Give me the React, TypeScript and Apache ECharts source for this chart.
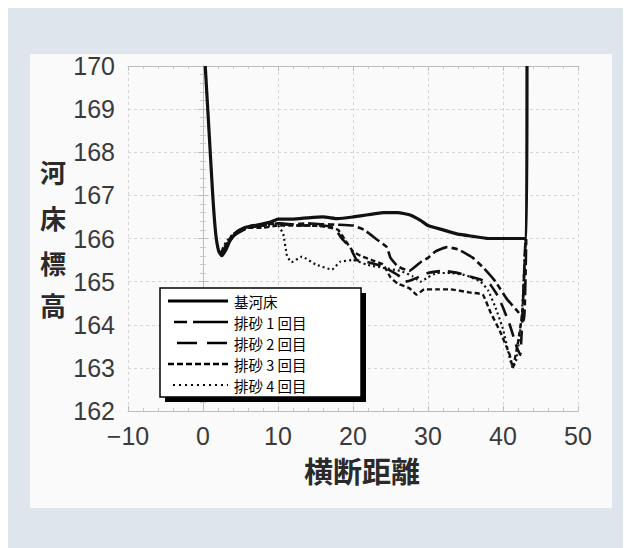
import React, { useEffect, useRef } from "react";
import * as echarts from "echarts";

const seriesNames = ["基河床", "排砂 1 回目", "排砂 2 回目", "排砂 3 回目", "排砂 4 回目"];
const xAxisTitle = "横断距離";
const yAxisTitle = ["河", "床", "標", "高"];
const xMin = -10, xMax = 50, xStep = 10;
const yMin = 162, yMax = 170, yStep = 1;

const baseBed: number[][] = [
  [0.3, 170], [0.8, 168.5], [1.3, 167], [1.7, 166.1], [2.1, 165.7], [2.5, 165.6], [3.0, 165.72],
  [3.6, 165.95], [4.5, 166.15], [5.5, 166.25], [7, 166.3], [9, 166.38], [10, 166.45], [12, 166.45],
  [14, 166.48], [16, 166.5], [18, 166.46], [20, 166.5], [22, 166.55], [24, 166.6], [26, 166.6],
  [27.5, 166.55], [29, 166.42], [30, 166.3], [32, 166.2], [34, 166.1], [36, 166.05], [38, 166.0],
  [40, 166.0], [43.1, 166.0], [43.2, 170],
];
const flush1: number[][] = [
  [2.3, 165.65], [3, 165.8], [4, 166.05], [5, 166.2], [6.5, 166.3], [8, 166.32], [10, 166.35],
  [12, 166.33], [14, 166.35], [16, 166.33], [18, 166.32], [20, 166.3], [21.5, 166.2], [23, 166.0],
  [24.5, 165.8], [25, 165.55], [26, 165.35], [27.5, 165.25], [29, 165.45], [30, 165.55], [31, 165.7],
  [32.5, 165.8], [34, 165.75], [36, 165.55], [37.5, 165.3], [39, 165.0], [40.5, 164.6], [42, 164.3],
  [42.8, 164.1], [43.1, 166],
];
const flush2: number[][] = [
  [2.3, 165.65], [3, 165.8], [4, 166.05], [6, 166.25], [8, 166.3], [10, 166.35], [12, 166.3],
  [14, 166.3], [16, 166.3], [17.5, 166.25], [18.5, 166.0], [19.6, 165.8], [20.5, 165.5], [22, 165.45],
  [24, 165.35], [26, 165.15], [27, 165.0], [28, 165.05], [30, 165.2], [32, 165.25], [34, 165.2],
  [35.6, 165.12], [37, 165.05], [38.3, 164.93], [39.2, 164.7], [40, 164.4], [40.9, 164.0],
  [41.9, 163.45], [42.3, 163.3], [43.0, 166],
];
const flush3: number[][] = [
  [2.3, 165.65], [3, 165.85], [4, 166.1], [6, 166.25], [8, 166.25], [10, 166.3], [12, 166.3],
  [14, 166.3], [16, 166.28], [18, 166.2], [19, 165.95], [20, 165.7], [21, 165.6], [22.5, 165.5],
  [24, 165.4], [25, 165.1], [26, 164.95], [27.5, 164.85], [28.5, 164.7], [29.5, 164.82], [31, 164.82],
  [33, 164.82], [35.5, 164.75], [37.3, 164.7], [38.3, 164.3], [39.6, 163.85], [40.9, 163.3],
  [41.3, 163.0], [42, 163.6], [42.6, 164.3], [43.0, 166],
];
const flush4: number[][] = [
  [2.3, 165.65], [3, 165.9], [4, 166.1], [6, 166.25], [8, 166.3], [10, 166.3], [10.7, 166.1],
  [11.2, 165.6], [11.8, 165.45], [13.2, 165.58], [15, 165.4], [17.2, 165.28], [18.3, 165.46],
  [20, 165.5], [21.9, 165.39], [24, 165.32], [26.3, 165.25], [28, 165.12], [29, 165.0], [30, 165.1],
  [31.2, 165.2], [33, 165.2], [35, 165.15], [37, 165.0], [38, 164.8], [39, 164.4], [40, 163.9],
  [40.8, 163.3], [41.3, 163.0], [41.8, 163.2], [42.5, 164.2], [43.0, 166],
];

const seriesData = [baseBed, flush1, flush2, flush3, flush4];
const dashes: (number[] | null)[] = [null, [6, 4, 16, 4], [14, 8], [5, 3], [2, 3]];
const widths = [3.2, 2.6, 2.6, 2.4, 2.2];
const legendDashes: (number[] | null)[] = [null, [13, 6, 35, 6], [20, 10], [6, 3], [2, 4]];
const legendStart = [160, 166, 169, 160, 165];

const numFont = "'Liberation Sans', Arial, sans-serif";
const cjkFont = "'Noto Sans CJK JP', 'Noto Sans CJK SC', sans-serif";

export default function App() {
  const ref = useRef<HTMLDivElement>(null);
  useEffect(() => {
    if (!ref.current) return;
    const chart = echarts.init(ref.current, null, { renderer: "svg" });
    const gridL = 120, gridT = 58, gridW = 450, gridH = 345;
    const axisCommon = {
      type: "value" as const,
      min: xMin,
      max: xMax,
      interval: xStep,
    };
    const legendX = 152, legendY = 280, legendW = 201, legendH = 109;
    const rowsY = [293, 314, 335, 356, 377];
    const graphics: any[] = [
      { type: "rect", z: -10, shape: { x: 22, y: 46, width: 582, height: 454 }, style: { fill: "#fafafb" } },
      { type: "rect", z: 100, shape: { x: legendX + 5, y: legendY + 5, width: legendW, height: legendH }, style: { fill: "#000" } },
      { type: "rect", z: 101, shape: { x: legendX, y: legendY, width: legendW, height: legendH }, style: { fill: "#fff", stroke: "#000", lineWidth: 1.5 } },
    ];
    seriesNames.forEach((n, i) => {
      graphics.push({
        type: "line",
        z: 102,
        shape: { x1: legendStart[i], y1: rowsY[i], x2: 220, y2: rowsY[i] },
        style: { stroke: "#000", lineWidth: i === 0 ? 3 : i === 4 ? 2 : 2.5, lineDash: legendDashes[i] || undefined },
      });
      graphics.push({
        type: "text",
        z: 102,
        x: 226,
        y: rowsY[i],
        style: { text: n, fill: "#000", font: `14.5px ${cjkFont}`, lineHeight: 17, verticalAlign: "middle", align: "left" },
      });
    });
    const yNameY = [163, 209, 254, 296];
    yAxisTitle.forEach((c, i) => {
      graphics.push({
        type: "text",
        x: 45,
        y: yNameY[i],
        style: { text: c, fill: "#2a2a2a", font: `bold 26px ${cjkFont}`, align: "center", verticalAlign: "middle" },
      });
    });
    graphics.push({
      type: "text",
      x: 354,
      y: 462,
      style: { text: xAxisTitle, fill: "#2a2a2a", font: `bold 29px ${cjkFont}`, align: "center", verticalAlign: "middle" },
    });

    const lineCol = "#bdbdbd";
    chart.setOption({
      animation: false,
      backgroundColor: "#dfe5ec",
      grid: { left: gridL, top: gridT, width: gridW, height: gridH },
      xAxis: [
        {
          ...axisCommon,
          position: "bottom",
          axisLine: { show: true, lineStyle: { color: lineCol, width: 1 } },
          axisTick: { show: true, inside: true, length: 5, lineStyle: { color: lineCol } },
          minorTick: { show: true, splitNumber: 5, length: 3, lineStyle: { color: "#cacaca" } },
          splitLine: { show: true, lineStyle: { color: "#d6d6d6", type: [3, 3], width: 1 } },
          axisLabel: {
            margin: 12,
            fontSize: 25,
            color: "#3a3a3a",
            fontFamily: numFont,
            formatter: (v: number) => String(v).replace("-", "−"),
          },
        },
        {
          ...axisCommon,
          position: "top",
          axisLine: { show: true, lineStyle: { color: lineCol, width: 1 } },
          axisTick: { show: true, inside: true, length: 5, lineStyle: { color: lineCol } },
          minorTick: { show: true, splitNumber: 5, length: 3, lineStyle: { color: "#cacaca" } },
          splitLine: { show: false },
          axisLabel: { show: false },
        },
      ],
      yAxis: [
        {
          type: "value",
          min: yMin,
          max: yMax,
          interval: yStep,
          position: "left",
          axisLine: { show: true, lineStyle: { color: lineCol, width: 1 } },
          axisTick: { show: true, inside: true, length: 5, lineStyle: { color: lineCol } },
          minorTick: { show: true, splitNumber: 5, length: 3, lineStyle: { color: "#cacaca" } },
          splitLine: { show: true, lineStyle: { color: "#d6d6d6", type: [3, 3], width: 1 } },
          axisLabel: { margin: 13, fontSize: 25, color: "#3a3a3a", fontFamily: numFont, padding: [4, 0, 0, 0] },
        },
        {
          type: "value",
          min: yMin,
          max: yMax,
          interval: yStep,
          position: "right",
          axisLine: { show: true, lineStyle: { color: lineCol, width: 1 } },
          axisTick: { show: true, inside: true, length: 5, lineStyle: { color: lineCol } },
          minorTick: { show: true, splitNumber: 5, length: 3, lineStyle: { color: "#cacaca" } },
          splitLine: { show: false },
          axisLabel: { show: false },
        },
      ],
      series: seriesData.map((d, i) => ({
        type: "line",
        name: seriesNames[i],
        data: d,
        xAxisIndex: 0,
        yAxisIndex: 0,
        showSymbol: false,
        symbol: "none",
        smooth: 0.12,
        z: 10 - i,
        lineStyle: { color: "#111", width: widths[i], type: dashes[i] || "solid" },
      })),
      graphic: graphics,
    });
    return () => chart.dispose();
  }, []);
  return <div ref={ref} style={{ width: 623, height: 540 }} />;
}
